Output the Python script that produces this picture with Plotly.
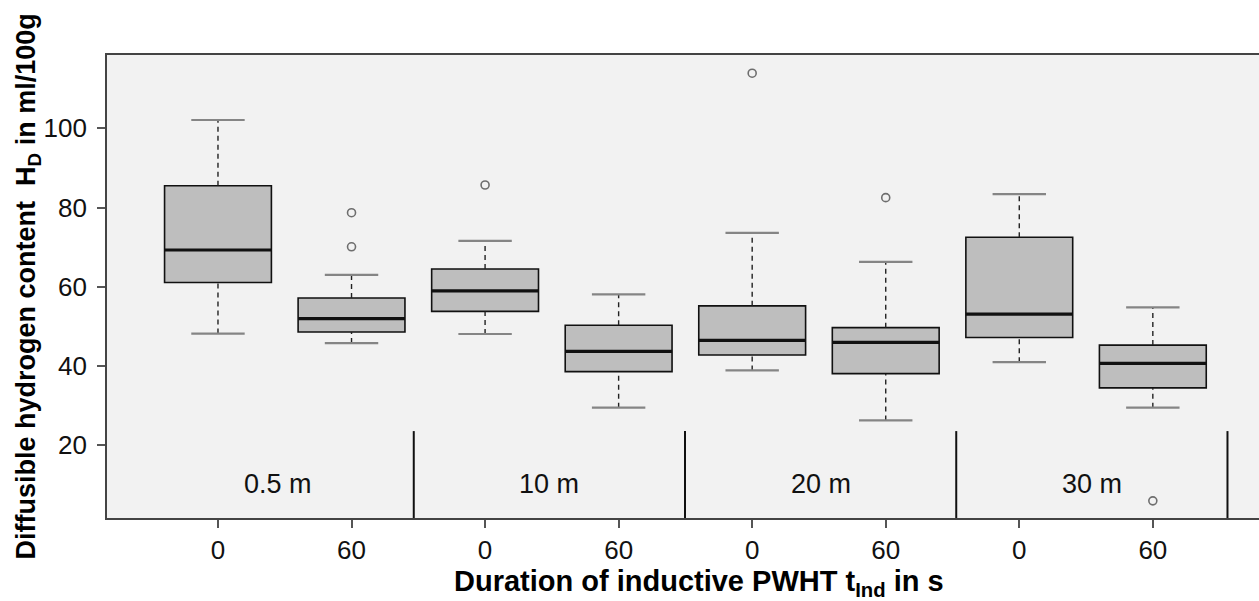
import plotly.graph_objects as go

# ---------------- data ----------------
groups = ["0.5 m", "10 m", "20 m", "30 m"]
durations = ["0", "60"]
q1 = [61.1, 48.6, 53.8, 38.6, 42.8, 38.1, 47.2, 34.5]
median = [69.3, 52.0, 59.0, 43.7, 46.5, 46.0, 53.1, 40.7]
q3 = [85.5, 57.2, 64.5, 50.3, 55.2, 49.7, 72.5, 45.3]
whisker_low = [48.2, 45.8, 48.1, 29.5, 38.9, 26.3, 41.0, 29.5]
whisker_high = [102.1, 63.0, 71.6, 58.1, 73.6, 66.3, 83.4, 54.8]
outliers = [[], [78.7, 70.1], [85.7], [], [113.9], [82.5], [], [6.0]]
y_ticks = [20, 40, 60, 80, 100]

# ---------------- layout constants ----------------
FONT = "Liberation Sans, Arial, sans-serif"
BOX_W = 0.8
CAP_W = 0.4
SEP_START, SEP_STEP, SEP_TOP = 2.466, 2.031, 23.6
Y_RANGE = [1.67, 118.5]
X_RANGE = [0.169, 8.795]

pos = list(range(1, len(groups) * len(durations) + 1))
tick_text = [d for g in groups for d in durations]

fig = go.Figure()

# box bodies
fig.add_trace(go.Box(
    x=pos, q1=q1, median=median, q3=q3,
    lowerfence=q1, upperfence=q3,
    width=BOX_W, whiskerwidth=0,
    fillcolor="#BEBEBE", line=dict(color="#111111", width=1.6),
    boxpoints=False, hoverinfo="skip", showlegend=False,
))

# dashed whiskers
wx, wy = [], []
for p, lo, a, b, hi in zip(pos, whisker_low, q1, q3, whisker_high):
    wx += [p, p, None, p, p, None]
    wy += [lo, a, None, b, hi, None]
fig.add_trace(go.Scatter(x=wx, y=wy, mode="lines",
                         line=dict(color="#222222", width=1.4, dash="5px,4px"),
                         hoverinfo="skip", showlegend=False))

# whisker caps
cx, cy = [], []
for p, lo, hi in zip(pos, whisker_low, whisker_high):
    cx += [p - CAP_W / 2, p + CAP_W / 2, None, p - CAP_W / 2, p + CAP_W / 2, None]
    cy += [lo, lo, None, hi, hi, None]
fig.add_trace(go.Scatter(x=cx, y=cy, mode="lines",
                         line=dict(color="#858585", width=2.2),
                         hoverinfo="skip", showlegend=False))

# medians
mx, my = [], []
for p, m in zip(pos, median):
    mx += [p - BOX_W / 2, p + BOX_W / 2, None]
    my += [m, m, None]
fig.add_trace(go.Scatter(x=mx, y=my, mode="lines",
                         line=dict(color="#111111", width=3.2),
                         hoverinfo="skip", showlegend=False))

# outliers
ox, oy = [], []
for p, outs in zip(pos, outliers):
    for v in outs:
        ox.append(p)
        oy.append(v)
fig.add_trace(go.Scatter(x=ox, y=oy, mode="markers",
                         marker=dict(symbol="circle-open", size=8,
                                     color="#6E6E6E", line=dict(width=1.6)),
                         hoverinfo="skip", showlegend=False))

# panel separators and group labels
shapes, annotations = [], []
for i, g in enumerate(groups):
    sep = SEP_START + SEP_STEP * i
    shapes.append(dict(type="line", xref="x", yref="y", x0=sep, x1=sep,
                       y0=Y_RANGE[0], y1=SEP_TOP,
                       line=dict(color="#111111", width=2)))
    left = sep - SEP_STEP
    annotations.append(dict(x=(left + sep) / 2, y=10.35, xref="x", yref="y",
                            text=g, showarrow=False,
                            font=dict(family=FONT, size=27, color="#111111"),
                            xanchor="center", yanchor="middle"))

# axis titles
annotations.append(dict(
    x=0.5135, y=-0.14, xref="paper", yref="paper",
    text="<b>Duration of inductive PWHT t<sub>Ind</sub> in s</b>",
    showarrow=False, xanchor="center", yanchor="middle",
    font=dict(family=FONT, size=29, color="#000000")))
annotations.append(dict(
    x=-0.0686, y=0.5, xref="paper", yref="paper", textangle=-90,
    text="<b>Diffusible hydrogen content  H<sub>D</sub> in ml/100g</b>",
    showarrow=False, xanchor="center", yanchor="middle",
    font=dict(family=FONT, size=27, color="#000000")))

fig.update_layout(
    width=1259, height=601,
    margin=dict(l=107, r=0, t=55, b=83),
    paper_bgcolor="white", plot_bgcolor="#F2F2F2",
    shapes=shapes, annotations=annotations,
    showlegend=False,
    font=dict(family=FONT, size=26, color="#111111"),
)
fig.update_xaxes(
    range=X_RANGE, tickmode="array", tickvals=pos, ticktext=tick_text,
    showgrid=False, zeroline=False,
    showline=True, linecolor="#444444", linewidth=1.6, mirror=True,
    ticks="outside", ticklen=8, tickwidth=1.5, tickcolor="#555555",
    tickfont=dict(family=FONT, size=26, color="#111111"),
)
fig.update_yaxes(
    range=Y_RANGE, tickmode="array", tickvals=y_ticks,
    showgrid=False, zeroline=False,
    showline=True, linecolor="#444444", linewidth=1.6, mirror=False,
    ticks="outside", ticklen=8, tickwidth=1.5, tickcolor="#555555",
    ticklabelstandoff=5,
    tickfont=dict(family=FONT, size=26, color="#111111"),
)

fig.write_html(
    "out.html",
    config={"displayModeBar": False},
    post_script="document.body.style.margin='0';document.body.style.overflow='hidden';",
)
